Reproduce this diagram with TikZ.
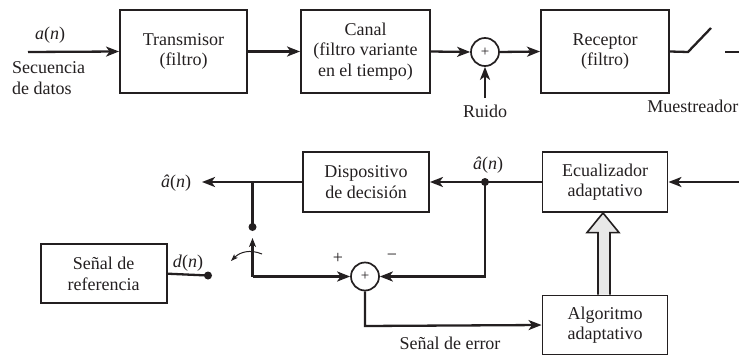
\documentclass[tikz,border=0pt]{standalone}
\usepackage{fontspec}
\setmainfont{Liberation Serif}
\usetikzlibrary{arrows.meta,calc}
\definecolor{ink}{RGB}{35,31,32}
\begin{document}
\begin{tikzpicture}[x=1pt,y=-1pt,
  every node/.style={font=\fontsize{18}{20.5}\selectfont, text=ink},
  blk/.style={draw=ink, line width=1.9pt, align=center, inner sep=0pt},
  sumc/.style={draw=ink, circle, line width=1.7pt, minimum size=28pt, inner sep=0pt, font=\fontsize{15}{15}\selectfont},
  wire/.style={draw=ink, line width=2.3pt},
  arr/.style={wire, -{Stealth[length=13pt,width=10pt,inset=3.5pt]}},
  smallarr/.style={wire, -{Stealth[length=9pt,width=7pt,inset=2.5pt]}},
  dot/.style={circle, fill=ink, minimum size=8pt, inner sep=0pt},
  lbl/.style={inner sep=0pt}]
\useasboundingbox (0,0) rectangle (739,356);
% top row
\node[blk, minimum width=127pt, minimum height=83pt] (tx) at (183.5,51.5) {Transmisor\\(filtro)};
\node[blk, minimum width=129pt, minimum height=83pt] (ch) at (365.5,51.5) {Canal\\(filtro variante\\en el tiempo)};
\node[sumc] (sum1) at (485,52) {+};
\node[blk, minimum width=128pt, minimum height=83pt] (rx) at (605,51.5) {Receptor\\(filtro)};
\coordinate (in) at (28,52);
\coordinate (nz) at (485,98);
\coordinate (s1) at (688,52);
\coordinate (s2) at (711,28);
\coordinate (s3) at (725,52);
\coordinate (s4) at (739,52);
\node[lbl] (an) at (50,35) {\textit{a}(\textit{n})};
\node[lbl, align=left, anchor=west] (sec) at (12,78) {Secuencia\\de datos};
\node[lbl] (ruido) at (485,111) {Ruido};
\node[lbl, anchor=east] (mues) at (738.5,106) {Muestreador};
\draw[arr] (in) -- (tx.west);
\draw[arr] (tx.east) -- (ch.west);
\draw[arr] (ch.east) -- (sum1.west);
\draw[arr] (nz) -- (sum1.south);
\draw[arr] (sum1.east) -- (rx.west);
\draw[wire] (rx.east) -- (s1) -- (s2);
\draw[wire] (s3) -- (s4);
% bottom
\node[blk, minimum width=125pt, minimum height=60pt] (eq) at (605,182) {Ecualizador\\adaptativo};
\node[blk, minimum width=126pt, minimum height=60pt] (dd) at (366,182) {Dispositivo\\de decisión};
\node[blk, minimum width=126pt, minimum height=59pt] (ref) at (103.7,273.7) {Señal de\\referencia};
\node[blk, minimum width=125pt, minimum height=59pt] (alg) at (605,325) {Algoritmo\\adaptativo};
\node[sumc] (sum2) at (365,276.5) {+};
\coordinate (rin) at (739,182);
\node[dot] (d1) at (485,182) {};
\coordinate (out) at (202,182);
\coordinate (j1) at (252.5,182);
\node[dot] (d2) at (252.5,227) {};
\coordinate (sw) at (252.5,276.5);
\coordinate (swtip) at (252.5,238);
\node[dot] (d3) at (208,275.5) {};
\coordinate (c1) at (485,276.5);
\coordinate (c2) at (365,326);
\coordinate (a1) at (262,254);
\coordinate (a2) at (231,261);
\node[lbl] (ahat1) at (488,165) {\textit{â}(\textit{n})};
\node[lbl] (ahat2) at (176,183) {\textit{â}(\textit{n})};
\node[lbl] (dn) at (188,263) {\textit{d}(\textit{n})};
\node[lbl] (plus) at (338,258) {+};
\node[lbl] (minus) at (392,257) {−};
\node[lbl] (err) at (450,343) {Señal de error};
\draw[arr] (rin) -- (eq.east);
\draw[wire] (eq.west) -- (d1.center);
\draw[arr] (d1.center) -- (dd.east);
\draw[arr] (dd.west) -- (out);
\draw[wire] (j1) -- (d2.center);
\draw[wire] (ref.east) -- (d3.center);
\draw[smallarr] (sw) -- (swtip);
\draw[arr] (sw) -- (sum2.west);
\draw[arr] (d1.center) -- (c1) -- (sum2.east);
\draw[arr] (sum2.south) -- (c2) -- (alg.west);
\draw[draw=ink, line width=1pt, -{Stealth[length=7pt,width=5pt,inset=1.5pt]}] (a1) .. controls (250,249) and (240,252) .. (a2);
% hollow arrow
\draw[draw=ink, line width=1.6pt, fill=gray!18, line join=miter]
  ($(alg.north)+(-7,0)$) -- ($(alg.north)+(-7,-62)$) -- ($(alg.north)+(-18,-62)$) -- ($(eq.south)+(-2,0)$)
  -- ($(alg.north)+(14,-62)$) -- ($(alg.north)+(5,-62)$) -- ($(alg.north)+(5,0)$);
\end{tikzpicture}
\end{document}
